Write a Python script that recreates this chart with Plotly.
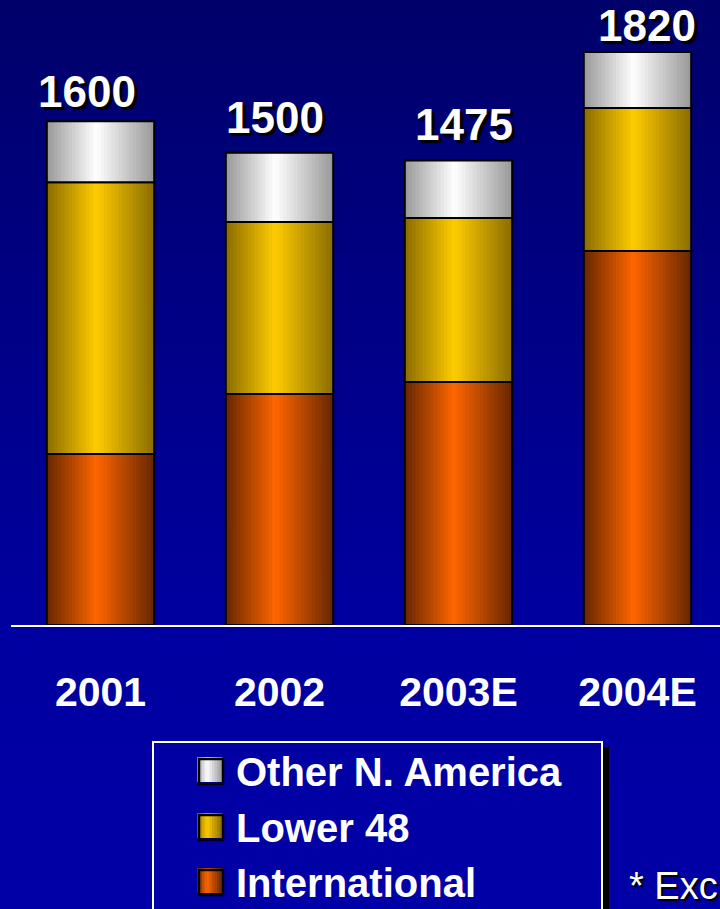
import plotly.graph_objects as go

# ---- data -------------------------------------------------------------
years = ["2001", "2002", "2003E", "2004E"]
international = [543, 734, 772, 1188]
lower_48 = [863, 546, 521, 454]
other_na = [194, 220, 182, 178]
series_names = ["International", "Lower 48", "Other N. America"]
footnote = "* Exc"

# ---- geometry helpers (figure pixels -> paper coords) -------------------
FIG_W, FIG_H = 720, 909
M_L, M_R, M_T, M_B = 11, 0, 0, 284
PLOT_W = FIG_W - M_L - M_R
PLOT_H = FIG_H - M_T - M_B


def px_x(p):
    return (p - M_L) / PLOT_W


def px_y(p):
    return (PLOT_H + M_T - p) / PLOT_H


FONT = "Liberation Sans, Arial, Helvetica, sans-serif"
BAR_W = 0.6
N_STRIPS = 30

# dark edge / bright centre colours for the cylinder shading
PALETTES = {
    "International": ((102, 38, 0), (255, 102, 0)),
    "Lower 48": ((138, 108, 0), (255, 204, 0)),
    "Other N. America": ((152, 152, 152), (255, 255, 255)),
}


def shade(name, t, peak=0.46):
    dark, bright = PALETTES[name]
    if t < peak:
        s = 1 - (peak - t) / peak
    else:
        s = 1 - (t - peak) / (1 - peak)
    s = max(0.0, min(1.0, s))
    c = [round(d + (b - d) * s) for d, b in zip(dark, bright)]
    return f"rgb({c[0]},{c[1]},{c[2]})"


stack = {
    "International": international,
    "Lower 48": lower_48,
    "Other N. America": other_na,
}
totals = [sum(v) for v in zip(international, lower_48, other_na)]

fig = go.Figure()

# stacked segments, each drawn as thin vertical strips for a rounded look
base = [0] * len(years)
for name in series_names:
    vals = stack[name]
    sw = BAR_W / N_STRIPS
    for k in range(N_STRIPS):
        t = (k + 0.5) / N_STRIPS
        off = -BAR_W / 2 + k * sw
        width = sw * 1.25 if k < N_STRIPS - 1 else sw
        fig.add_trace(go.Bar(
            x=years, y=vals, base=base,
            offset=off, width=width,
            marker=dict(color=shade(name, t), line=dict(width=0)),
            showlegend=False, hoverinfo="skip",
        ))
    # black outline around each segment
    fig.add_trace(go.Bar(
        x=years, y=vals, base=base,
        offset=-BAR_W / 2, width=BAR_W,
        marker=dict(color="rgba(0,0,0,0)", line=dict(color="black", width=2)),
        name=name, showlegend=False, hoverinfo="skip",
    ))
    base = [b + v for b, v in zip(base, vals)]

# ---- background gradient --------------------------------------------------
shapes = []
band = 6
top_c, mid_c, bot_c = 106, 160, 166
for y0 in range(0, FIG_H, band):
    yc = y0 + band / 2
    if yc < 630:
        b = top_c + (mid_c - top_c) * yc / 630
    else:
        b = mid_c + (bot_c - mid_c) * (yc - 630) / (FIG_H - 630)
    shapes.append(dict(
        type="rect", xref="paper", yref="paper", layer="below",
        x0=px_x(-2), x1=px_x(FIG_W + 2), y0=px_y(y0 + band + 1), y1=px_y(y0),
        fillcolor=f"rgb(0,0,{round(b)})", line=dict(width=0),
    ))

# ---- value labels on top of the stacks -----------------------------------
label_xshift = [-14, -4, 6, 10]
label_yshift = [3, 9, 10, 0]
annotations = []
for i, yr in enumerate(years):
    annotations.append(dict(
        x=i, y=totals[i], xref="x", yref="y",
        text=str(totals[i]), showarrow=False,
        xanchor="center", yanchor="bottom",
        xshift=label_xshift[i], yshift=label_yshift[i],
        font=dict(family=FONT, size=44, color="white", weight="bold",
                  shadow="3px 3px 1px black"),
    ))

# ---- legend box ------------------------------------------------------------
shapes.append(dict(
    type="rect", xref="paper", yref="paper",
    x0=px_x(603), x1=px_x(609), y0=px_y(940), y1=px_y(747),
    fillcolor="black", line=dict(width=0),
))
shapes.append(dict(
    type="rect", xref="paper", yref="paper",
    x0=px_x(153), x1=px_x(602), y0=px_y(940), y1=px_y(742),
    fillcolor="rgba(0,0,0,0)", line=dict(color="white", width=2),
))

legend_rows = ["Other N. America", "Lower 48", "International"]
row_centres = [770, 826, 881]
for name, cy in zip(legend_rows, row_centres):
    sx0, sx1 = 197, 222
    n = 10
    for k in range(n):
        t = (k + 0.5) / n
        shapes.append(dict(
            type="rect", xref="paper", yref="paper",
            x0=px_x(sx0 + (sx1 - sx0) * k / n),
            x1=px_x(sx0 + (sx1 - sx0) * (k + 1) / n + 0.6),
            y0=px_y(cy + 12), y1=px_y(cy - 13),
            fillcolor=shade(name, t, peak=0.4), line=dict(width=0),
        ))
    shapes.append(dict(
        type="rect", xref="paper", yref="paper",
        x0=px_x(199), x1=px_x(223), y0=px_y(cy + 14), y1=px_y(cy - 11),
        fillcolor="rgba(0,0,0,0)", line=dict(color="black", width=2.5),
    ))
    annotations.append(dict(
        x=px_x(234), y=px_y(cy + 2), xref="paper", yref="paper",
        text=name, showarrow=False, xanchor="left", yanchor="middle",
        font=dict(family=FONT, size=40, color="white", weight="bold"),
    ))

annotations.append(dict(
    x=px_x(627), y=px_y(909), xref="paper", yref="paper",
    text=footnote, showarrow=False, xanchor="left", yanchor="bottom",
    font=dict(family=FONT, size=38, color="white",
              shadow="2px 2px 1px black"),
))

fig.update_layout(
    width=FIG_W, height=FIG_H,
    margin=dict(l=M_L, r=M_R, t=M_T, b=M_B, pad=0),
    barmode="overlay",
    paper_bgcolor="rgb(0,0,150)",
    plot_bgcolor="rgba(0,0,0,0)",
    showlegend=False,
    shapes=shapes,
    annotations=annotations,
    xaxis=dict(
        type="category", range=[-0.5, 3.461],
        showgrid=False, zeroline=False, ticks="",
        showline=True, linecolor="white", linewidth=2,
        tickfont=dict(family=FONT, size=41, color="white", weight="bold"),
        ticklabelstandoff=30,
    ),
    yaxis=dict(
        range=[0, 1985], visible=False, showgrid=False, zeroline=False,
    ),
)

fig.write_html("out.html")
